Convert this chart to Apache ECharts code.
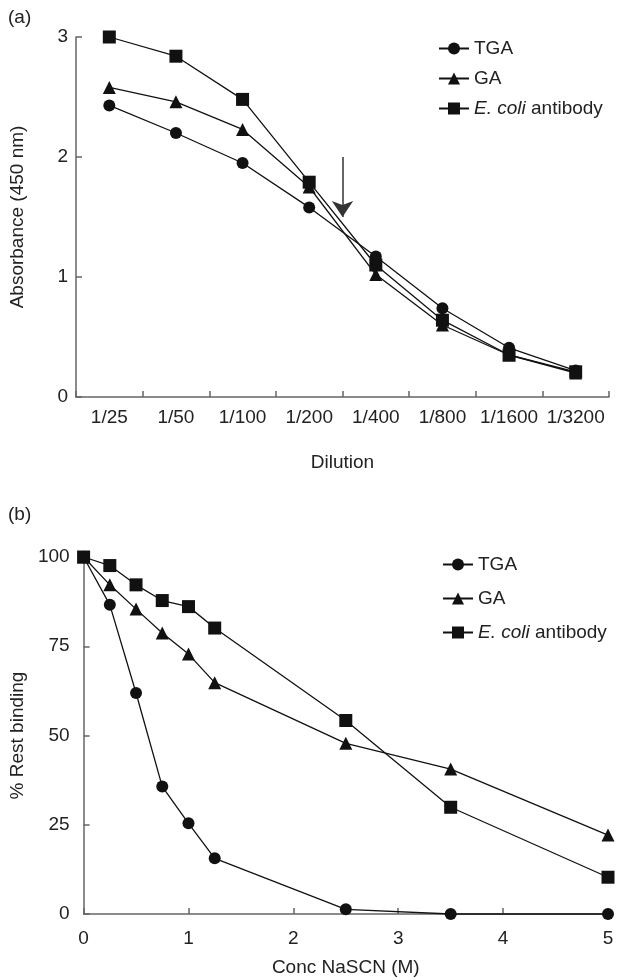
<!DOCTYPE html>
<html>
<head>
<meta charset="utf-8">
<script src="https://cdn.jsdelivr.net/npm/echarts@6/dist/echarts.min.js"></script>
<style>html,body{margin:0;padding:0;background:#fff}#c{width:626px;height:980px}</style>
</head>
<body>
<div id="c"></div>
<script>
// ---- Panel (a) data ----
var dilutions = ['1/25','1/50','1/100','1/200','1/400','1/800','1/1600','1/3200'];
var tgaA  = [2.43, 2.20, 1.95, 1.58, 1.17, 0.74, 0.41, 0.22];
var gaA   = [2.58, 2.46, 2.23, 1.75, 1.02, 0.60, 0.35, 0.20];
var ecoA  = [3.00, 2.84, 2.48, 1.79, 1.10, 0.64, 0.35, 0.21];
var yTicksA = [0, 1, 2, 3];
// arrow annotation: at the boundary between 1/200 and 1/400, from 2.0 down to 1.5
var arrowX = 4;
var arrowY = [2.0, 1.5];

// ---- Panel (b) data ----
var concB = [0, 0.25, 0.5, 0.75, 1.0, 1.25, 2.5, 3.5, 5.0];
var tgaB  = [100, 86.6, 61.9, 35.7, 25.4, 15.6, 1.3, 0, 0];
var gaB   = [100, 92.2, 85.4, 78.7, 72.8, 64.8, 47.8, 40.6, 22.1];
var ecoB  = [100, 97.6, 92.2, 87.8, 86.1, 80.1, 54.2, 29.9, 10.3];
var xTicksB = [0, 1, 2, 3, 4, 5];
var yTicksB = [0, 25, 50, 75, 100];

var names = ['TGA', 'GA', 'E. coli antibody'];
var symbols = ['circle', 'triangle', 'rect'];
var sizes = [12, 13, 13];

var FONT = '"Liberation Sans", Arial, Helvetica, sans-serif';
var TXT = '#222';
var AX = '#666';
var LINE = '#111';
var FS = 19;

function pair(xs, ys) { return xs.map(function (x, i) { return [x, ys[i]]; }); }

function mkSeries(name, idx, data, xi, yi) {
  return {
    name: name, type: 'line', xAxisIndex: xi, yAxisIndex: yi,
    data: data, symbol: symbols[idx], symbolSize: sizes[idx],
    clip: false, animation: false,
    lineStyle: { color: LINE, width: 1.3 },
    itemStyle: { color: LINE, borderWidth: 0 },
    emphasis: { disabled: true }
  };
}

var tickStyle = { show: true, inside: true, length: 6, lineStyle: { color: AX, width: 1.5 } };
var axisCommon = {
  axisLine: { lineStyle: { color: AX, width: 1.5 } },
  axisTick: tickStyle,
  axisLabel: { color: TXT, fontSize: FS, fontFamily: FONT },
  splitLine: { show: false },
  nameTextStyle: { color: TXT, fontSize: FS, fontFamily: FONT }
};
function ax(o) { return Object.assign({}, JSON.parse(JSON.stringify(axisCommon)), o); }

var legendFmt = function (n) { return n === 'E. coli antibody' ? '{i|E. coli} antibody' : n; };
var legendText = { color: TXT, fontSize: FS, fontFamily: FONT,
  rich: { i: { fontStyle: 'italic', fontSize: FS, fontFamily: FONT, color: TXT } } };

var option = {
  backgroundColor: '#fff',
  animation: false,
  title: [
    { text: '(a)', left: 3, top: 3, textStyle: { fontSize: FS, fontWeight: 'normal', color: TXT, fontFamily: FONT } },
    { text: '(b)', left: 3, top: 500, textStyle: { fontSize: FS, fontWeight: 'normal', color: TXT, fontFamily: FONT } }
  ],
  grid: [
    { left: 73, right: 17, top: 37, bottom: 583 },
    { left: 72, right: 18, top: 557, bottom: 66 }
  ],
  legend: [
    { data: names, orient: 'vertical', left: 433, top: 34, itemWidth: 30, itemHeight: 15, itemGap: 11,
      formatter: legendFmt, textStyle: legendText, selectedMode: false },
    { data: names, orient: 'vertical', left: 437, top: 550, itemWidth: 30, itemHeight: 15, itemGap: 15,
      formatter: legendFmt, textStyle: legendText, selectedMode: false }
  ],
  xAxis: [
    ax({ type: 'category', gridIndex: 0, data: dilutions, boundaryGap: true,
      name: 'Dilution', nameLocation: 'middle', nameGap: 56,
      axisTick: { show: true, inside: true, length: 6, alignWithLabel: false, interval: 0, lineStyle: { color: AX, width: 1.5 } },
      axisLabel: { color: TXT, fontSize: FS, fontFamily: FONT, margin: 11, interval: 0 } }),
    { type: 'value', gridIndex: 0, min: 0, max: dilutions.length, show: false },
    ax({ type: 'value', gridIndex: 1, min: xTicksB[0], max: xTicksB[xTicksB.length - 1], interval: 1,
      name: 'Conc NaSCN (M)', nameLocation: 'middle', nameGap: 44,
      axisLabel: { color: TXT, fontSize: FS, fontFamily: FONT, margin: 15 } })
  ],
  yAxis: [
    ax({ type: 'value', gridIndex: 0, min: yTicksA[0], max: yTicksA[yTicksA.length - 1], interval: 1,
      name: 'Absorbance (450 nm)', nameLocation: 'middle', nameGap: 49,
      axisLabel: { color: TXT, fontSize: FS, fontFamily: FONT, margin: 8 } }),
    ax({ type: 'value', gridIndex: 1, min: yTicksB[0], max: yTicksB[yTicksB.length - 1], interval: 25,
      name: '% Rest binding', nameLocation: 'middle', nameGap: 49,
      axisLabel: { color: TXT, fontSize: FS, fontFamily: FONT, margin: 14 } })
  ],
  series: [
    mkSeries(names[0], 0, tgaA, 0, 0),
    mkSeries(names[1], 1, gaA, 0, 0),
    mkSeries(names[2], 2, ecoA, 0, 0),
    {
      name: 'arrow', type: 'line', xAxisIndex: 1, yAxisIndex: 0, data: [], silent: true,
      markLine: {
        silent: true, animation: false,
        symbol: ['none', 'arrow'], symbolSize: 16,
        label: { show: false },
        emphasis: { disabled: true },
        lineStyle: { color: '#333', width: 1.5, type: 'solid' },
        data: [[{ coord: [arrowX, arrowY[0]] }, { coord: [arrowX, arrowY[1]] }]]
      }
    },
    mkSeries(names[0], 0, pair(concB, tgaB), 2, 1),
    mkSeries(names[1], 1, pair(concB, gaB), 2, 1),
    mkSeries(names[2], 2, pair(concB, ecoB), 2, 1)
  ]
};

var chart = echarts.init(document.getElementById('c'), null, { renderer: 'canvas' });
chart.setOption(option);
</script>
</body>
</html>
